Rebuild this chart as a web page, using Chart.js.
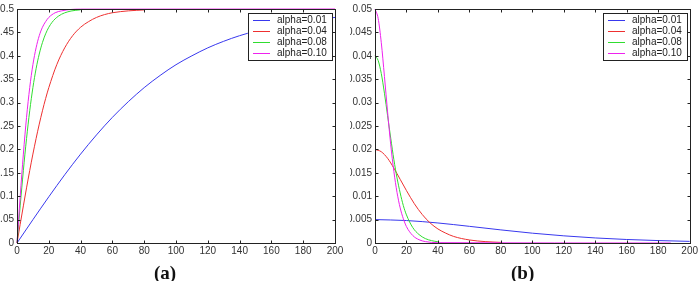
<!DOCTYPE html>
<html>
<head>
<meta charset="utf-8">
<title>alpha curves</title>
<script src="https://cdn.jsdelivr.net/npm/chart.js@4.4.0/dist/chart.umd.min.js"></script>
<style>
  body { margin: 0; background: #fff; }
  #wrap { position: relative; width: 700px; height: 281px; overflow: hidden; }
  .box { position: absolute; top: 0; width: 350px; height: 281px; }
  .cap { position: absolute; top: 262px; line-height: 20px; font: bold 19px "Liberation Serif", serif; color: #111; }
</style>
</head>
<body>
<div id="wrap">
  <div class="box" style="left:0"><canvas id="chartA"></canvas></div>
  <div class="box" style="left:350px"><canvas id="chartB"></canvas></div>
  <div class="cap" style="left:154px">(a)</div>
  <div class="cap" style="left:511px">(b)</div>
</div>
<script>
// legend labels and colours
var labels = ['alpha=0.01', 'alpha=0.04', 'alpha=0.08', 'alpha=0.10'];
var colors = ['#3838ee', '#ee3030', '#30dd30', '#ee22ee'];

// (a) values
var xA1 = [0, 10, 20, 30, 40, 50, 60, 70, 80, 90, 100, 110, 120, 130, 140, 150, 160, 170, 180, 190, 200];
var yA1 = [0, .0498, .0987, .1457, .190, .231, .2685, .302, .332, .358, .381, .400, .417, .431, .443, .4526, .461, .468, .473, .478, .482];
var xA4 = [0, 2, 4, 6, 8, 10, 12, 14, 16, 18, 20, 25, 30, 35, 40, 45, 50, 55, 60, 70, 80];
var yA4 = [0, .0399, .0793, .1178, .1548, .190, .2231, .254, .2825, .3085, .332, .381, .417, .443, .461, .473, .482, .488, .492, .496, .498];
var xA8 = [0, 2, 4, 6, 8, 10, 12, 14, 16, 18, 20, 22, 24, 26, 28, 30, 34, 40];
var yA8 = [0, .0793, .1548, .2231, .2825, .332, .3723, .4038, .4283, .4469, .461, .4713, .479, .4846, .4888, .4918, .4957, .4983];
var xA10 = [0, 2, 4, 6, 8, 10, 12, 14, 16, 18, 20, 24, 28, 34, 40, 200];
var yA10 = [0, .0987, .190, .2685, .332, .381, .417, .443, .461, .473, .482, .492, .496, .499, .4997, .5];

// (b) values
var xB1 = [0, 20, 40, 60, 80, 100, 120, 140, 160, 180, 200];
var yB1 = [.005, .0048, .00428, .00356, .0028, .0021, .00153, .00108, .00075, .00052, .00035];
var xB4 = [0, 4, 8, 12, 16, 20, 25, 30, 35, 40, 45, 50, 60, 70, 80];
var yB4 = [.02, .0195, .0181, .016, .0136, .0112, .0084, .0061, .0043, .003, .0021, .0014, .00065, .0003, .00013];
var xB8 = [0, 2, 4, 6, 8, 10, 12, 14, 16, 18, 20, 24, 28, 32, 36, 40];
var yB8 = [.04, .039, .0362, .032, .0272, .0224, .0178, .0139, .0107, .008, .006, .0033, .0018, .00094, .0005, .00026];
var xB10 = [0, 2, 4, 6, 8, 10, 12, 14, 16, 18, 20, 24, 28, 32, 40, 188];
var yB10 = [.05, .048, .0428, .0356, .028, .021, .0153, .0108, .0075, .0052, .0035, .0016, .0007, .0003, .00007, 0];

function pts(xs, ys) {
  return xs.map(function (x, i) { return { x: x, y: ys[i] }; });
}

// box, inward ticks and legend like the matlab figure
var frame = {
  id: 'frame',
  afterDraw: function (chart) {
    var ctx = chart.ctx, a = chart.chartArea;
    var l = Math.round(a.left) + 0.5, r = Math.round(a.right) + 0.5;
    var t = Math.round(a.top) + 0.5, b = Math.round(a.bottom) + 0.5;
    ctx.save();
    ctx.strokeStyle = '#222';
    ctx.lineWidth = 1;
    ctx.strokeRect(l, t, r - l, b - t);
    ctx.beginPath();
    var sx = chart.scales.x, sy = chart.scales.y;
    sx.ticks.forEach(function (tk) {
      var p = Math.round(sx.getPixelForValue(tk.value)) + 0.5;
      ctx.moveTo(p, b); ctx.lineTo(p, b - 3);
      ctx.moveTo(p, t); ctx.lineTo(p, t + 3);
    });
    sy.ticks.forEach(function (tk) {
      var p = Math.round(sy.getPixelForValue(tk.value)) + 0.5;
      ctx.moveTo(l, p); ctx.lineTo(l + 3, p);
      ctx.moveTo(r, p); ctx.lineTo(r - 3, p);
    });
    ctx.stroke();

    var lx = Math.round(a.right) - 87, ly = Math.round(a.top) + 4;
    ctx.fillStyle = '#fff';
    ctx.fillRect(lx, ly, 84, 47);
    ctx.strokeStyle = '#222';
    ctx.strokeRect(lx + 0.5, ly + 0.5, 84, 47);
    ctx.font = '10px "Liberation Sans", Arial, sans-serif';
    ctx.textBaseline = 'middle';
    chart.data.datasets.forEach(function (d, i) {
      var y = ly + 7.5 + i * 11;
      ctx.strokeStyle = d.borderColor;
      ctx.beginPath();
      ctx.moveTo(lx + 5, y); ctx.lineTo(lx + 22, y);
      ctx.stroke();
      ctx.fillStyle = '#222';
      ctx.fillText(d.label, lx + 29, y);
    });
    ctx.restore();
  }
};

function makeChart(id, series, yMax, yStep, yWidth, padRight) {
  var sets = series.map(function (s, i) {
    return {
      label: labels[i],
      data: s,
      borderColor: colors[i],
      borderWidth: 1,
      pointRadius: 0,
      cubicInterpolationMode: 'monotone',
      clip: 3,
      order: 3 - i
    };
  });
  var tickFont = { family: '"Liberation Sans", Arial, sans-serif', size: 10 };
  return new Chart(document.getElementById(id), {
    type: 'line',
    data: { datasets: sets },
    options: {
      responsive: true,
      maintainAspectRatio: false,
      animation: false,
      layout: { padding: { left: 0, right: padRight, top: 8, bottom: 0 } },
      plugins: { legend: { display: false }, tooltip: { enabled: false } },
      scales: {
        x: {
          type: 'linear', min: 0, max: 200,
          grid: { display: false, drawTicks: false },
          border: { display: false },
          ticks: { stepSize: 20, padding: 2, color: '#333', font: tickFont, maxRotation: 0 },
          afterFit: function (s) { s.height = 38; }
        },
        y: {
          min: 0, max: yMax,
          grid: { display: false, drawTicks: false },
          border: { display: false },
          ticks: {
            stepSize: yStep, padding: 3, color: '#333', font: tickFont,
            callback: function (v) { return String(+v.toFixed(3)); }
          },
          afterFit: function (s) { s.width = yWidth; }
        }
      }
    },
    plugins: [frame]
  });
}

makeChart('chartA', [pts(xA1, yA1), pts(xA4, yA4), pts(xA8, yA8), pts(xA10, yA10)], 0.5, 0.05, 17, 15);
makeChart('chartB', [pts(xB1, yB1), pts(xB4, yB4), pts(xB8, yB8), pts(xB10, yB10)], 0.05, 0.005, 25, 9);
</script>
</body>
</html>
